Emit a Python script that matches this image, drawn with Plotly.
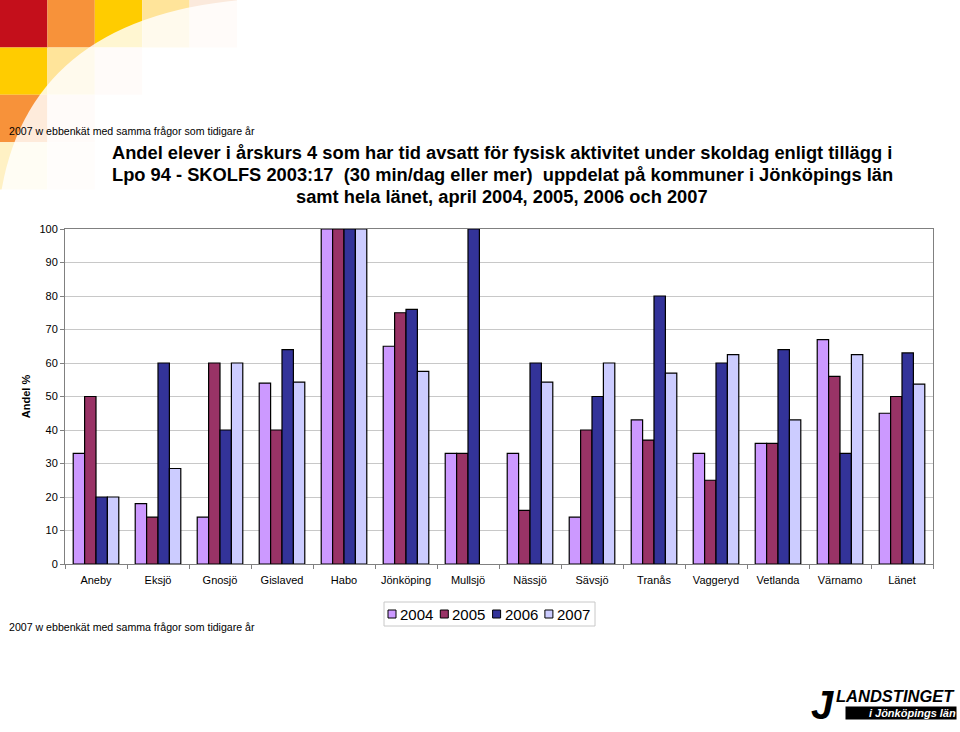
import plotly.graph_objects as go

# Kommuner + länet
kommuner = ['Aneby', 'Eksjö', 'Gnosjö', 'Gislaved', 'Habo', 'Jönköping', 'Mullsjö',
            'Nässjö', 'Sävsjö', 'Tranås', 'Vaggeryd', 'Vetlanda', 'Värnamo', 'Länet']

# Andel % per år
ar_2004 = [33, 18, 14, 54, 100, 65, 33, 33, 14, 43, 33, 36, 67, 45]
ar_2005 = [50, 14, 60, 40, 100, 75, 33, 16, 40, 37, 25, 36, 56, 50]
ar_2006 = [20, 60, 40, 64, 100, 76, 100, 60, 50, 80, 60, 64, 33, 63]
ar_2007 = [20, 28.5, 60, 54.3, 100, 57.5, None, 54.3, 60, 57, 62.5, 43, 62.5, 53.7]

serier = [('2004', ar_2004, '#CC99FF'),
          ('2005', ar_2005, '#993366'),
          ('2006', ar_2006, '#333399'),
          ('2007', ar_2007, '#CCCCFF')]

TITEL = ['Andel elever i årskurs 4 som har tid avsatt för fysisk aktivitet under skoldag enligt tillägg i',
         'Lpo 94 - SKOLFS 2003:17  (30 min/dag eller mer)  uppdelat på kommuner i Jönköpings län',
         'samt hela länet, april 2004, 2005, 2006 och 2007']
FOTNOT = '2007 w ebbenkät med samma frågor som tidigare år'

# plotytan i pixlar: x 65..933, y 229..564
L, R, T, B = 65, 933, 229, 564


def xp(x):
    return (x - L) / (R - L)


def yp(y):
    return (B - y) / (B - T)


fig = go.Figure()
for namn, varden, farg in serier:
    fig.add_trace(go.Bar(x=kommuner, y=varden, name=namn,
                         marker=dict(color=farg, line=dict(color='black', width=1.2))))

# Bakgrundsrutor uppe till vänster (dekor)
rutor = [
    (0, 0, '#C40F1B'), (1, 0, '#F7923A'), (2, 0, '#FFCC00'), (3, 0, '#FFE49A'), (4, 0, '#FBE9DC'),
    (0, 1, '#FFCC00'), (1, 1, '#FFE49A'), (2, 1, '#FBE9DC'),
    (0, 2, '#F7923A'), (1, 2, '#FBE9DC'),
    (0, 3, '#FFF1C4'), (1, 3, '#FDF3EA'),
]
shapes = []
s = 47.4
for cx, cy, farg in rutor:
    shapes.append(dict(type='rect', xref='paper', yref='paper',
                       x0=xp(cx * s), x1=xp((cx + 1) * s),
                       y0=yp((cy + 1) * s), y1=yp(cy * s),
                       fillcolor=farg, line=dict(width=0), layer='below'))


def pt(x, y):
    return f'{xp(x):.4f},{yp(y):.4f}'


# vit båge över rutorna
shapes.append(dict(type='path', xref='paper', yref='paper', layer='below',
                   path=f'M {pt(0, 200)} Q {pt(25, 20)} {pt(240, 0)} L {pt(240, 200)} Z',
                   fillcolor='rgba(255,255,255,0.82)', line=dict(width=0)))

annotations = []
for i, rad in enumerate(TITEL):
    annotations.append(dict(text=f'<b>{rad}</b>', xref='paper', yref='paper', x=xp(502), y=yp(152 + i * 22),
                            xanchor='center', yanchor='middle', showarrow=False,
                            font=dict(size=18.3, color='black')))

annotations += [
    dict(text=FOTNOT, xref='paper', yref='paper', x=xp(7), y=yp(131), xanchor='left', yanchor='middle',
         showarrow=False, font=dict(size=10.6, color='black')),
    dict(text=FOTNOT, xref='paper', yref='paper', x=xp(7), y=yp(627), xanchor='left', yanchor='middle',
         showarrow=False, font=dict(size=10.6, color='black')),
    # Landstinget-logga (förenklad)
    dict(text='<b><i>J</i></b>', xref='paper', yref='paper', x=xp(822), y=yp(705),
         xanchor='center', yanchor='middle', showarrow=False,
         font=dict(size=40, color='black', family='Liberation Sans')),
    dict(text='<b><i>LANDSTINGET</i></b>', xref='paper', yref='paper', x=xp(957),
         y=yp(696), xanchor='right', yanchor='middle', showarrow=False,
         font=dict(size=16.5, color='black', family='Liberation Sans')),
    dict(text='<b><i>i Jönköpings län</i></b>', xref='paper', yref='paper', x=xp(957),
         y=yp(713), xanchor='right', yanchor='middle', showarrow=False, bgcolor='black',
         width=110, align='right', borderpad=0,
         font=dict(size=11, color='white', family='Liberation Sans')),
]

# Egen förklaring (liten ruta med fyra år)
shapes.append(dict(type='rect', xref='paper', yref='paper', x0=xp(384), x1=xp(595),
                   y0=yp(626), y1=yp(602), line=dict(color='#C8C8C8', width=1),
                   fillcolor='white'))
for i, (namn, varden, farg) in enumerate(serier):
    x0 = 388 + i * 52.3
    shapes.append(dict(type='rect', xref='paper', yref='paper', x0=xp(x0), x1=xp(x0 + 8),
                       y0=yp(618), y1=yp(610), fillcolor=farg, line=dict(color='black', width=1)))
    annotations.append(dict(text=namn, xref='paper', yref='paper', x=xp(x0 + 10), y=yp(614),
                            xanchor='left', yanchor='middle', showarrow=False,
                            font=dict(size=15, color='black')))

fig.update_layout(
    width=960, height=732,
    margin=dict(l=L, r=960 - R, t=T, b=732 - B),
    paper_bgcolor='white', plot_bgcolor='white',
    font=dict(family='Liberation Sans, Arial', color='black'),
    barmode='group', bargap=0.265, bargroupgap=0,
    showlegend=False,
    shapes=shapes,
    annotations=annotations,
)
fig.update_xaxes(showline=True, linecolor='#808080', mirror=True, ticks='outside', tickson='boundaries',
                 ticklen=4, tickcolor='#808080', tickfont=dict(size=11), tickangle=0,
                 ticklabelstandoff=6)
fig.update_yaxes(range=[0, 100], dtick=10, showgrid=True, gridcolor='#C8C8C8', showline=True,
                 linecolor='#808080', mirror=True, ticks='outside', ticklen=4, tickcolor='#808080',
                 tickfont=dict(size=11), zeroline=False,
                 title=dict(text='<b>Andel %</b>', font=dict(size=11), standoff=6))

fig.write_html("out.html", config={'displayModeBar': False},
               post_script="document.body.style.margin='0';")
